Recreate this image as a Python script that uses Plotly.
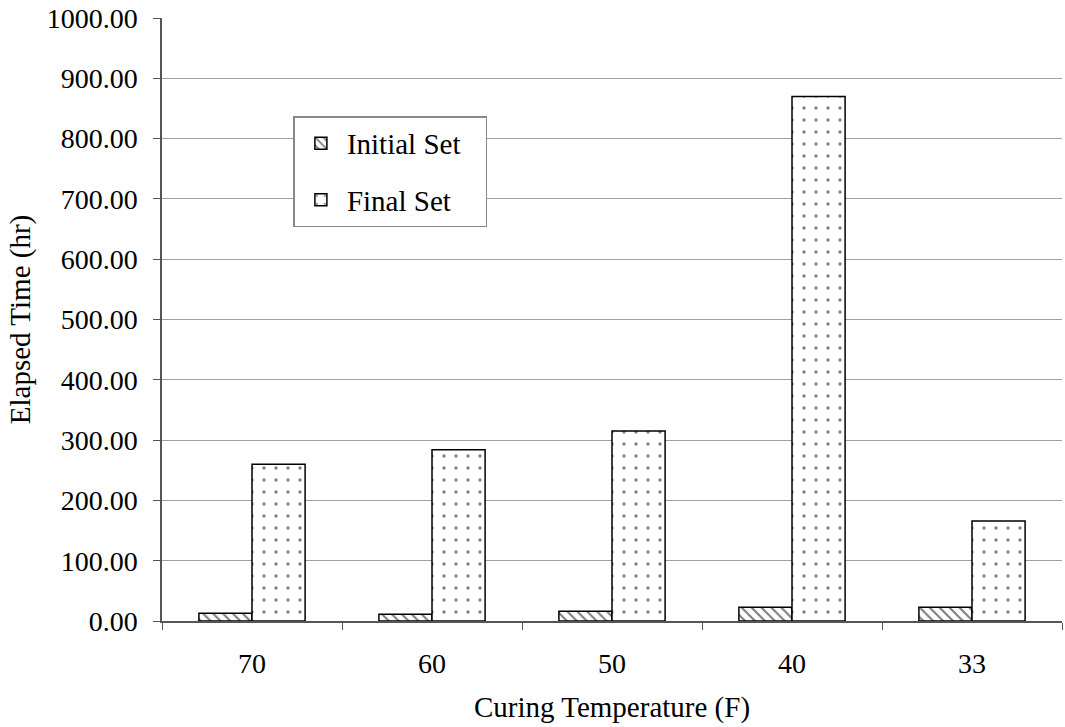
import plotly.graph_objects as go

categories = ["70", "60", "50", "40", "33"]
initial_set = [13, 11, 16, 23, 23]
final_set = [260, 284, 315, 870, 166]
y_ticks = [0, 100, 200, 300, 400, 500, 600, 700, 800, 900, 1000]
y_tick_labels = [f"{v:.2f}" for v in y_ticks]
series_names = ["Initial Set", "Final Set"]

pad = "\u00a0\u00a0\u2009"
fig = go.Figure()
fig.add_trace(go.Bar(
    x=categories, y=initial_set, name=series_names[0] + pad, legendgroup="a",
    marker=dict(color="white", line=dict(color="black", width=1.5),
                pattern=dict(shape="\\", fgcolor="black", bgcolor="white", size=7, solidity=0.3)),
))
fig.add_trace(go.Bar(
    x=categories, y=final_set, name=series_names[1], legendgroup="b",
    marker=dict(color="white", line=dict(color="black", width=1.5),
                pattern=dict(shape=".", fgcolor="black", bgcolor="white", size=12, solidity=0.06)),
))

font = "Liberation Serif, Times New Roman, serif"
fig.update_layout(
    width=1065, height=727,
    margin=dict(l=162, r=3, t=18, b=106),
    paper_bgcolor="white", plot_bgcolor="white",
    barmode="group", bargap=0.41, bargroupgap=0,
    font=dict(family=font, size=28, color="black"),
    legend=dict(x=0.146, y=0.837, xanchor="left", yanchor="top",
                bordercolor="#888888", borderwidth=1.5, bgcolor="white",
                font=dict(size=29), tracegroupgap=16, itemwidth=42),
    xaxis=dict(title=dict(text="Curing Temperature (F)", font=dict(size=29), standoff=18),
               showline=True, linecolor="#555555", linewidth=1.5,
               ticks="outside", tickson="boundaries", ticklen=7, tickcolor="#555555",
               tickfont=dict(size=28), ticklabelstandoff=17),
    yaxis=dict(title=dict(text="Elapsed Time (hr)", font=dict(size=29), standoff=8),
               range=[0, 1000], tickvals=y_ticks, ticktext=y_tick_labels,
               showline=True, linecolor="#555555", linewidth=1.5,
               ticks="outside", ticklen=7, tickcolor="#555555",
               showgrid=True, gridcolor="#a0a0a0", gridwidth=1.2,
               tickfont=dict(size=28), ticklabelstandoff=10, zeroline=False),
)
fig.write_html("out.html")
